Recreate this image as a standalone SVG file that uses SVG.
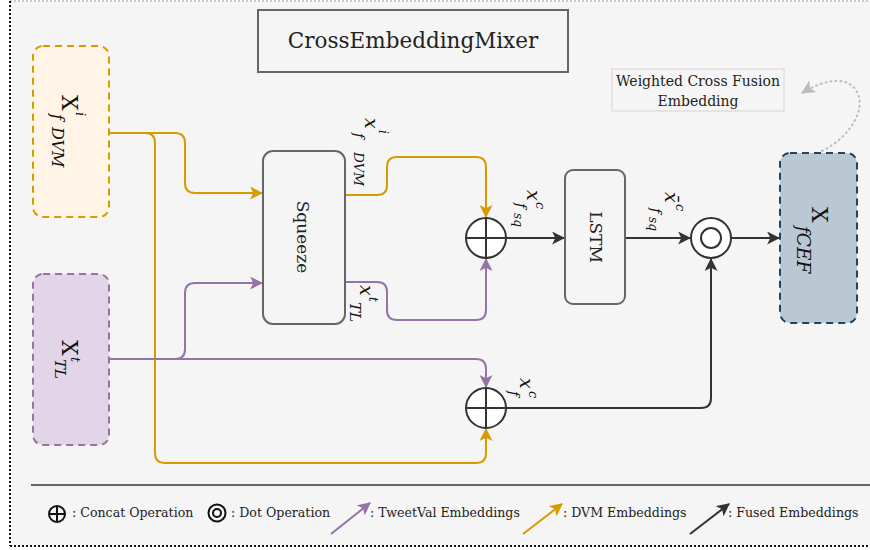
<svg xmlns="http://www.w3.org/2000/svg" width="870" height="550" viewBox="0 0 870 550">
<style>
.t{font-family:"DejaVu Serif","Liberation Serif",serif;fill:#222}
.m{font-family:"DejaVu Serif","Liberation Serif",serif;fill:#111}
.mi{font-family:"DejaVu Serif","Liberation Serif",serif;font-style:italic;fill:#111}
.or{fill:none;stroke:#d79b00;stroke-width:2;marker-end:url(#aO)}
.pu{fill:none;stroke:#9673a6;stroke-width:2;marker-end:url(#aP)}
.bk{fill:none;stroke:#333;stroke-width:2;marker-end:url(#aB)}
.op{fill:#fff;stroke:#333;stroke-width:2}
</style>
<defs>
<marker id="aO" viewBox="0 0 12 12" refX="11" refY="6" markerWidth="13" markerHeight="13" markerUnits="userSpaceOnUse" orient="auto"><path d="M0,0 L12,6 L0,12 L3,6 Z" fill="#d79b00"/></marker>
<marker id="aP" viewBox="0 0 12 12" refX="11" refY="6" markerWidth="13" markerHeight="13" markerUnits="userSpaceOnUse" orient="auto"><path d="M0,0 L12,6 L0,12 L3,6 Z" fill="#9673a6"/></marker>
<marker id="aB" viewBox="0 0 12 12" refX="11" refY="6" markerWidth="13" markerHeight="13" markerUnits="userSpaceOnUse" orient="auto"><path d="M0,0 L12,6 L0,12 L3,6 Z" fill="#333"/></marker>
<marker id="aG" viewBox="0 0 12 12" refX="11" refY="6" markerWidth="14" markerHeight="14" markerUnits="userSpaceOnUse" orient="auto"><path d="M0,0 L12,6 L0,12 L3,6 Z" fill="#bbb"/></marker>
</defs>
<rect x="0" y="0" width="870" height="550" fill="#fff"/>
<rect x="10" y="1" width="870" height="545" fill="#f5f5f5"/>
<line x1="10" y1="1" x2="870" y2="1" stroke="#bbb" stroke-width="1.5" stroke-dasharray="2,2"/>
<line x1="10" y1="1" x2="10" y2="546" stroke="#111" stroke-width="2" stroke-dasharray="2,2"/>
<line x1="10" y1="546" x2="870" y2="546" stroke="#111" stroke-width="2" stroke-dasharray="2,2"/>

<g id="title"><rect x="258" y="10" width="310" height="62" fill="#f5f5f5" stroke="#666" stroke-width="2"/><text class="t" x="413" y="48" font-size="21.5" text-anchor="middle">CrossEmbeddingMixer</text></g>

<g id="note"><rect x="612" y="69" width="172" height="42" fill="#f5f5f5" stroke="#e3dcdc" stroke-width="1.5"/><text class="t" x="698" y="86" font-size="14" text-anchor="middle">Weighted Cross Fusion</text><text class="t" x="698" y="106" font-size="14" text-anchor="middle">Embedding</text></g>

<g id="connectors">
<path class="or" d="M109,133 H175 Q185,133 185,143 V183 Q185,193 195,193 H262"/>
<path class="or" d="M109,133 H145 Q155,133 155,143 V453 Q155,463 165,463 H476 Q486,463 486,453 V429"/>
<path class="or" d="M345,195 H377 Q387,195 387,185 V167 Q387,157 397,157 H476 Q486,157 486,167 V217"/>
<path class="pu" d="M109,359 H175 Q185,359 185,349 V293 Q185,283 195,283 H262"/>
<path class="pu" d="M345,282 H377 Q387,282 387,292 V310 Q387,320 397,320 H476 Q486,320 486,310 V259"/>
<path class="pu" d="M109,359 H476 Q486,359 486,369 V387"/>
<path class="bk" d="M506,238 H564"/>
<path class="bk" d="M625,238 H690"/>
<path class="bk" d="M731,238 H779"/>
<path class="bk" d="M506,408 H701 Q711,408 711,398 V259"/>
<path d="M822,151 C852,136 866,108 857,92 C850,78 830,76 802,93" fill="none" stroke="#bbb" stroke-width="2" stroke-dasharray="1,4" stroke-linecap="round" marker-end="url(#aG)"/>
</g>

<g id="xdvm"><rect x="33" y="46" width="76" height="171" rx="10" fill="#fff4e6" stroke="#d79b00" stroke-width="2" stroke-dasharray="7,5"/>
<g transform="translate(62,95) rotate(90)"><text class="m" x="0" y="0" font-size="22">X</text><text class="mi" x="17" y="-14" font-size="13">i</text><text class="mi" x="19" y="10" font-size="16">f</text><text class="mi" x="32" y="10" font-size="16">DVM</text></g></g>

<g id="xtl"><rect x="33" y="274" width="76" height="171" rx="10" fill="#e1d5e7" stroke="#9673a6" stroke-width="2" stroke-dasharray="7,5"/>
<g transform="translate(62,340) rotate(90)"><text class="m" x="0" y="0" font-size="22">X</text><text class="mi" x="17" y="-9" font-size="13">t</text><text class="mi" x="19" y="7" font-size="15">TL</text></g></g>

<g id="squeeze"><rect x="263" y="151" width="82" height="173" rx="10" fill="#f5f5f5" stroke="#666" stroke-width="2"/><text class="t" transform="translate(303,237) rotate(90)" x="0" y="6" font-size="17" text-anchor="middle">Squeeze</text></g>

<g id="lbl1" transform="translate(365,118) rotate(90)"><text class="mi" x="0" y="0" font-size="19">x</text><text class="mi" x="12" y="-14" font-size="12">i</text><text class="mi" x="15" y="11" font-size="14">f</text><text class="mi" x="34" y="11" font-size="13.5">DVM</text></g>
<g id="lbl2" transform="translate(360,285) rotate(90)"><text class="mi" x="0" y="0" font-size="19">x</text><text class="mi" x="12" y="-9" font-size="12">t</text><text class="mi" x="17" y="10" font-size="15">TL</text></g>

<g id="concat1"><circle class="op" cx="486" cy="238" r="20"/><path d="M466,238 H506 M486,218 V258" stroke="#333" stroke-width="2"/></g>
<g id="lbl3" transform="translate(527,190) rotate(90)"><text class="mi" x="0" y="0" font-size="19">x</text><text class="mi" x="12" y="-9" font-size="13">c</text><text class="mi" x="13" y="11" font-size="14">f</text><text class="mi" x="23" y="13" font-size="12">sq</text></g>

<g id="lstm"><rect x="565" y="170" width="60" height="134" rx="8" fill="#f5f5f5" stroke="#666" stroke-width="2"/><text class="t" transform="translate(590,237) rotate(90)" x="0" y="0" font-size="17" text-anchor="middle">LSTM</text></g>

<g id="dot"><circle class="op" cx="711" cy="238" r="20"/><circle cx="711" cy="238" r="10" fill="none" stroke="#333" stroke-width="2"/></g>
<g id="lbl4" transform="translate(665,192) rotate(90)"><text class="mi" x="0" y="0" font-size="19">x̄</text><text class="mi" x="12" y="-11" font-size="13">c</text><text class="mi" x="16" y="14" font-size="14">f</text><text class="mi" x="25" y="16" font-size="12">sq</text></g>

<g id="xcef"><rect x="780" y="153" width="77" height="170" rx="10" fill="#bac8d3" stroke="#23445d" stroke-width="2" stroke-dasharray="7,5"/>
<g transform="translate(812,207) rotate(90)"><text class="m" x="0" y="0" font-size="22">X</text><text class="mi" x="19" y="15" font-size="18.5">fCEF</text></g></g>

<g id="concat2"><circle class="op" cx="486" cy="408" r="20"/><path d="M466,408 H506 M486,388 V428" stroke="#333" stroke-width="2"/></g>
<g id="lbl5" transform="translate(520,378) rotate(90)"><text class="mi" x="0" y="0" font-size="19">x</text><text class="mi" x="13" y="-9" font-size="13">c</text><text class="mi" x="13" y="11" font-size="14">f</text></g>

<g id="legend">
<line x1="31" y1="485" x2="870" y2="485" stroke="#666" stroke-width="2"/>
<circle cx="57" cy="514" r="8" fill="none" stroke="#111" stroke-width="2"/><path d="M49,514 H65 M57,506 V522" stroke="#111" stroke-width="2"/>
<text class="t" x="72" y="517" font-size="12.6">: Concat Operation</text>
<circle cx="217" cy="513" r="8.5" fill="none" stroke="#111" stroke-width="2"/><circle cx="217" cy="513" r="4" fill="none" stroke="#111" stroke-width="2"/>
<text class="t" x="231" y="517" font-size="12.6">: Dot Operation</text>
<path class="pu" d="M331,534 L370,503"/>
<text class="t" x="370" y="517" font-size="12.6">: TweetVal Embeddings</text>
<path class="or" d="M523,534 L562,504"/>
<text class="t" x="563" y="517" font-size="12.6">: DVM Embeddings</text>
<path class="bk" d="M690,534 L729,504"/>
<text class="t" x="728" y="517" font-size="12.6">: Fused Embeddings</text>
</g>
</svg>
